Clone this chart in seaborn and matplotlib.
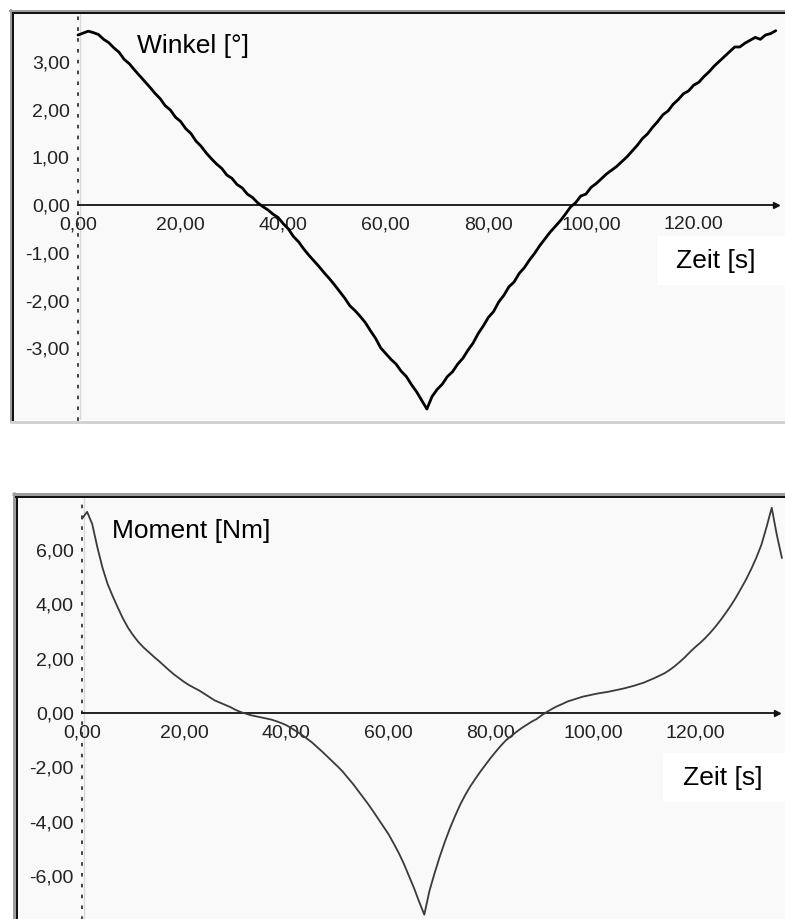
import numpy as np
import pandas as pd
import matplotlib
matplotlib.use("Agg")
import matplotlib.pyplot as plt
import seaborn as sns
from matplotlib.lines import Line2D
from matplotlib.patches import Rectangle
from matplotlib.ticker import FixedLocator, FixedFormatter

# ---------------- data ----------------
zeit_winkel = list(range(0, 137))
winkel = [
    3.56, 3.60, 3.64, 3.61, 3.57, 3.47, 3.40, 3.29, 3.20, 3.05,
    2.96, 2.83, 2.71, 2.59, 2.47, 2.34, 2.23, 2.08, 1.99, 1.84,
    1.75, 1.60, 1.50, 1.34, 1.23, 1.09, 0.97, 0.86, 0.77, 0.63,
    0.56, 0.43, 0.36, 0.23, 0.16, 0.05, -0.03, -0.10, -0.19, -0.26,
    -0.39, -0.50, -0.66, -0.77, -0.92, -1.05, -1.17, -1.29, -1.42, -1.54,
    -1.67, -1.81, -1.95, -2.11, -2.21, -2.33, -2.46, -2.63, -2.79, -2.99,
    -3.11, -3.23, -3.33, -3.48, -3.59, -3.76, -3.91, -4.09, -4.27, -4.01,
    -3.86, -3.75, -3.59, -3.49, -3.33, -3.21, -3.04, -2.89, -2.69, -2.53,
    -2.35, -2.23, -2.03, -1.89, -1.71, -1.61, -1.43, -1.31, -1.15, -1.01,
    -0.85, -0.71, -0.57, -0.45, -0.33, -0.19, -0.04, 0.05, 0.19, 0.23,
    0.37, 0.45, 0.55, 0.65, 0.73, 0.81, 0.91, 1.01, 1.13, 1.25,
    1.39, 1.49, 1.63, 1.75, 1.89, 1.97, 2.11, 2.21, 2.33, 2.39,
    2.51, 2.57, 2.69, 2.79, 2.91, 3.01, 3.11, 3.21, 3.31, 3.31,
    3.39, 3.45, 3.51, 3.47, 3.56, 3.59, 3.65,
]

zeit_moment = list(range(0, 138))
moment = [
    7.15, 7.40, 6.95, 6.10, 5.35, 4.75, 4.30, 3.88, 3.48, 3.14,
    2.86, 2.62, 2.42, 2.25, 2.08, 1.92, 1.75, 1.58, 1.42, 1.28,
    1.14, 1.02, 0.92, 0.82, 0.70, 0.58, 0.46, 0.38, 0.30, 0.22,
    0.12, 0.04, -0.02, -0.08, -0.12, -0.16, -0.20, -0.24, -0.30, -0.37,
    -0.45, -0.56, -0.68, -0.80, -0.94, -1.08, -1.25, -1.42, -1.60, -1.78,
    -1.96, -2.15, -2.38, -2.60, -2.85, -3.10, -3.35, -3.62, -3.90, -4.18,
    -4.46, -4.80, -5.15, -5.55, -6.00, -6.45, -6.95, -7.42, -6.55, -5.90,
    -5.30, -4.75, -4.25, -3.80, -3.38, -3.02, -2.70, -2.42, -2.15, -1.90,
    -1.65, -1.42, -1.20, -1.00, -0.85, -0.70, -0.56, -0.44, -0.32, -0.22,
    -0.08, 0.04, 0.15, 0.25, 0.33, 0.42, 0.48, 0.54, 0.60, 0.64,
    0.68, 0.72, 0.75, 0.78, 0.82, 0.86, 0.90, 0.95, 1.00, 1.06,
    1.12, 1.20, 1.28, 1.37, 1.46, 1.58, 1.72, 1.88, 2.05, 2.24,
    2.42, 2.58, 2.76, 2.96, 3.18, 3.42, 3.68, 3.95, 4.25, 4.58,
    4.92, 5.30, 5.72, 6.20, 6.85, 7.55, 6.55, 5.70,
]

x_ticks = [0, 20, 40, 60, 80, 100, 120]
x_minor = [5, 10, 15, 25, 30, 35, 45, 50, 55, 65, 70, 75, 85, 90, 95, 105, 110, 115, 125, 130, 135]
x_labels_top = ["0,00", "20,00", "40,00", "60,00", "80,00", "100,00", "120.00"]
x_labels_bottom = ["0,00", "20,00", "40,00", "60,00", "80,00", "100,00", "120,00"]
y_ticks_top = [3, 2, 1, 0, -1, -2, -3]
y_labels_top = ["3,00", "2,00", "1,00", "0,00", "-1,00", "-2,00", "-3,00"]
y_ticks_bottom = [6, 4, 2, 0, -2, -4, -6]
y_labels_bottom = ["6,00", "4,00", "2,00", "0,00", "-2,00", "-4,00", "-6,00"]

# ---------------- style ----------------
sns.set_style("white")
plt.rcParams["font.family"] = ["Liberation Sans", "DejaVu Sans"]

W, H = 785, 919
fig = plt.figure(figsize=(W / 100, H / 100), dpi=100)
fig.patch.set_facecolor("white")


def fx(px):
    return px / W


def fy(py):
    return 1 - py / H


ax1 = fig.add_axes([fx(14), fy(420), 1 - fx(14), fy(14) - fy(420)])
ax2 = fig.add_axes([fx(18), fy(919), 1 - fx(18), fy(498) - fy(919)])

df1 = pd.DataFrame({"Zeit": zeit_winkel, "Winkel": winkel})
df2 = pd.DataFrame({"Zeit": zeit_moment, "Moment": moment})

sns.lineplot(data=df1, x="Zeit", y="Winkel", ax=ax1, color="black", lw=2.0,
             estimator=None, sort=False, zorder=5)
sns.lineplot(data=df2, x="Zeit", y="Moment", ax=ax2, color="#3a3a3a", lw=1.3,
             estimator=None, sort=False, zorder=5)


def style_axes(ax, xlim, ylim, xlabels, yticks, ylabels):
    ax.set_facecolor("#f9f9f9")
    ax.set_xlim(*xlim)
    ax.set_ylim(*ylim)
    ax.set_xlabel("")
    ax.set_ylabel("")
    for s in ["top", "right"]:
        ax.spines[s].set_visible(False)
    ax.spines["left"].set_position(("data", 0))
    ax.spines["left"].set_linestyle((0, (1, 5)))
    ax.spines["left"].set_linewidth(1.3)
    ax.spines["left"].set_color("#333333")
    ax.spines["bottom"].set_position(("data", 0))
    ax.spines["bottom"].set_bounds(0, 136)
    ax.spines["bottom"].set_linewidth(1.3)
    ax.spines["bottom"].set_color("#111111")
    ax.axvline(0.45, color="#d8d8d8", lw=1.0, zorder=0)
    ax.plot([136], [0], marker=">", color="#111111", markersize=5, clip_on=False, zorder=6)

    ax.xaxis.set_major_locator(FixedLocator(x_ticks))
    ax.xaxis.set_major_formatter(FixedFormatter(xlabels))
    ax.xaxis.set_minor_locator(FixedLocator(x_minor))
    ax.yaxis.set_major_locator(FixedLocator(yticks))
    ax.yaxis.set_major_formatter(FixedFormatter(ylabels))
    ax.tick_params(axis="x", which="major", direction="inout", length=8, width=1,
                   pad=4, labelsize=14, colors="#111111", labelcolor="#222222")
    ax.tick_params(axis="x", which="minor", direction="out", length=3, width=1,
                   colors="#111111")
    ax.tick_params(axis="y", which="major", direction="out", length=5, width=1,
                   pad=1, labelsize=14, colors="#111111", labelcolor="#222222")
    ax.grid(False)


style_axes(ax1, (-12.47, 137.8), (-4.5, 4.0), x_labels_top, y_ticks_top, y_labels_top)
style_axes(ax2, (-12.53, 137.6), (-7.58, 7.91), x_labels_bottom, y_ticks_bottom, y_labels_bottom)


# ---------------- panel frames ----------------
def hline(y, x0, x1, color, wpx):
    fig.add_artist(Line2D([fx(x0), fx(x1)], [fy(y), fy(y)], transform=fig.transFigure,
                          color=color, lw=wpx * 0.72, solid_capstyle="butt", zorder=10))


def vline(x, y0, y1, color, wpx):
    fig.add_artist(Line2D([fx(x), fx(x)], [fy(y0), fy(y1)], transform=fig.transFigure,
                          color=color, lw=wpx * 0.72, solid_capstyle="butt", zorder=10))


# top panel
hline(10.5, 9, 785, "#9c9c9c", 2)
vline(10.5, 9, 423, "#9c9c9c", 2)
hline(13, 11.5, 785, "#111111", 2)
vline(13, 11.5, 421, "#111111", 2)
hline(421.5, 10, 785, "#d2d2d2", 3)
# bottom panel
hline(494, 12, 785, "#9c9c9c", 3)
vline(13.5, 492, 919, "#9c9c9c", 3)
hline(497, 15, 785, "#111111", 2)
vline(17, 495.5, 919, "#111111", 2)

# ---------------- labels ----------------
fig.add_artist(Rectangle((fx(657), fy(285)), 1 - fx(657), fy(236) - fy(285),
                         transform=fig.transFigure, facecolor="white", edgecolor="none", zorder=11))
fig.add_artist(Rectangle((fx(663), fy(802)), 1 - fx(663), fy(753) - fy(802),
                         transform=fig.transFigure, facecolor="white", edgecolor="none", zorder=11))

fig.text(fx(137), fy(46), "Winkel [°]", fontsize=19, ha="left", va="center", color="black", zorder=12)
fig.text(fx(716), fy(261), "Zeit [s]", fontsize=19, ha="center", va="center", color="black", zorder=12)
fig.text(fx(112), fy(531), "Moment [Nm]", fontsize=19, ha="left", va="center", color="black", zorder=12)
fig.text(fx(723), fy(778), "Zeit [s]", fontsize=19, ha="center", va="center", color="black", zorder=12)

fig.savefig("out.png", dpi=100, facecolor="white")
